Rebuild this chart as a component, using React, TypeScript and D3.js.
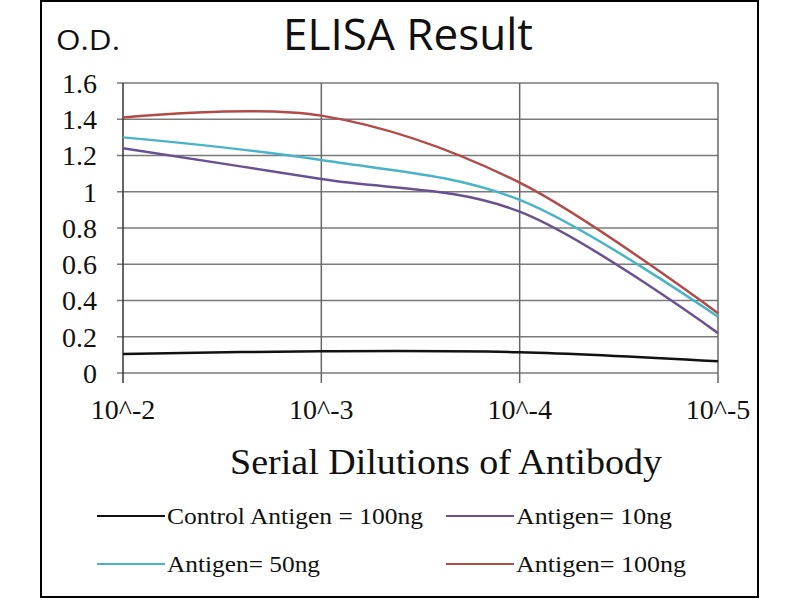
import * as d3 from "d3";
import { useEffect, useRef } from "react";

const dilutions = ["10^-2", "10^-3", "10^-4", "10^-5"];
const yTicks = [0, 0.2, 0.4, 0.6, 0.8, 1, 1.2, 1.4, 1.6];

const controlValues = [0.105, 0.12, 0.115, 0.065];
const antigen10Values = [1.24, 1.07, 0.89, 0.22];
const antigen50Values = [1.3, 1.175, 0.955, 0.31];
const antigen100Values = [1.41, 1.42, 1.05, 0.33];

interface Series {
  label: string;
  values: number[];
  color: string;
}

const seriesList: Series[] = [
  { label: "Control Antigen = 100ng", values: controlValues, color: "#111111" },
  { label: "Antigen= 10ng", values: antigen10Values, color: "#6a5290" },
  { label: "Antigen= 50ng", values: antigen50Values, color: "#48b4c6" },
  { label: "Antigen= 100ng", values: antigen100Values, color: "#b24a48" },
];

const ElisaChart = () => {
  const svgRef = useRef<SVGSVGElement>(null);

  useEffect(() => {
    const svg = d3.select(svgRef.current);
    svg.selectAll("*").remove();

    const width = 800;
    const height = 600;
    const left = 123;
    const right = 718;
    const top = 83;
    const bottom = 373;

    svg.attr("width", width).attr("height", height);

    svg
      .append("rect")
      .attr("width", width)
      .attr("height", height)
      .attr("fill", "#fff");

    // outer frame
    svg
      .append("rect")
      .attr("x", 41)
      .attr("y", 1)
      .attr("width", 717)
      .attr("height", 596)
      .attr("fill", "none")
      .attr("stroke", "#000")
      .attr("stroke-width", 2);

    const x = d3.scalePoint<string>().domain(dilutions).range([left, right]);
    const y = d3.scaleLinear().domain([0, 1.6]).range([bottom, top]);

    const g = svg.append("g");

    // horizontal gridlines
    g.selectAll(".hgrid")
      .data(yTicks)
      .enter()
      .append("line")
      .attr("x1", left - 6)
      .attr("x2", right)
      .attr("y1", (d) => y(d))
      .attr("y2", (d) => y(d))
      .attr("stroke", "#7a7a7a")
      .attr("stroke-width", 1.5);

    // vertical gridlines
    g.selectAll(".vgrid")
      .data(dilutions)
      .enter()
      .append("line")
      .attr("x1", (d) => x(d)!)
      .attr("x2", (d) => x(d)!)
      .attr("y1", top)
      .attr("y2", bottom + 10)
      .attr("stroke", (d, i) => (i === 0 ? "#333" : "#666"))
      .attr("stroke-width", 1.5);

    // y tick labels
    g.selectAll(".ylabel")
      .data(yTicks)
      .enter()
      .append("text")
      .attr("x", 97)
      .attr("y", (d) => y(d))
      .attr("dy", "0.35em")
      .attr("text-anchor", "end")
      .style("font-family", "'Liberation Serif', serif")
      .style("font-size", "28px")
      .attr("fill", "#111")
      .text((d) => d3.format("~g")(d));

    // x tick labels
    g.selectAll(".xlabel")
      .data(dilutions)
      .enter()
      .append("text")
      .attr("x", (d) => x(d)!)
      .attr("y", 419)
      .attr("text-anchor", "middle")
      .style("font-family", "'Liberation Serif', serif")
      .style("font-size", "28px")
      .attr("fill", "#111")
      .text((d) => d);

    // lines
    const line = d3
      .line<number>()
      .x((d, i) => x(dilutions[i])!)
      .y((d) => y(d))
      .curve(d3.curveCardinal.tension(0));

    g.selectAll(".series")
      .data(seriesList)
      .enter()
      .append("path")
      .attr("d", (d) => line(d.values))
      .attr("fill", "none")
      .attr("stroke", (d) => d.color)
      .attr("stroke-width", 2.5);

    // titles
    svg
      .append("text")
      .attr("x", 408)
      .attr("y", 50)
      .attr("text-anchor", "middle")
      .attr("textLength", 250)
      .attr("lengthAdjust", "spacingAndGlyphs")
      .style("font-family", "'Open Sans', sans-serif")
      .style("font-size", "43px")
      .attr("fill", "#111")
      .text("ELISA Result");

    svg
      .append("text")
      .attr("x", 56)
      .attr("y", 50)
      .attr("textLength", 64)
      .attr("lengthAdjust", "spacingAndGlyphs")
      .style("font-family", "'Open Sans', sans-serif")
      .style("font-size", "27px")
      .attr("fill", "#111")
      .text("O.D.");

    svg
      .append("text")
      .attr("x", 446)
      .attr("y", 474)
      .attr("text-anchor", "middle")
      .attr("textLength", 432)
      .attr("lengthAdjust", "spacingAndGlyphs")
      .style("font-family", "'Liberation Serif', serif")
      .style("font-size", "35px")
      .attr("fill", "#111")
      .text("Serial Dilutions of Antibody");

    // legend
    const legendPos = [
      { x: 97, y: 516, w: 256 },
      { x: 446, y: 516, w: 156 },
      { x: 97, y: 564, w: 153 },
      { x: 446, y: 564, w: 170 },
    ];

    const legend = svg
      .selectAll(".legend")
      .data(seriesList)
      .enter()
      .append("g")
      .attr("transform", (d, i) => `translate(${legendPos[i].x},${legendPos[i].y})`);

    legend
      .append("line")
      .attr("x1", 0)
      .attr("x2", 68)
      .attr("y1", 0)
      .attr("y2", 0)
      .attr("stroke", (d) => d.color)
      .attr("stroke-width", 2);

    legend
      .append("text")
      .attr("x", 70)
      .attr("y", 0)
      .attr("dy", "0.35em")
      .attr("textLength", (d, i) => legendPos[i].w)
      .attr("lengthAdjust", "spacingAndGlyphs")
      .style("font-family", "'Liberation Serif', serif")
      .style("font-size", "24px")
      .attr("fill", "#111")
      .text((d) => d.label);
  }, []);

  return <svg ref={svgRef} style={{ position: "absolute", left: 0, top: 0 }}></svg>;
};

export default function App() {
  return <ElisaChart />;
}
